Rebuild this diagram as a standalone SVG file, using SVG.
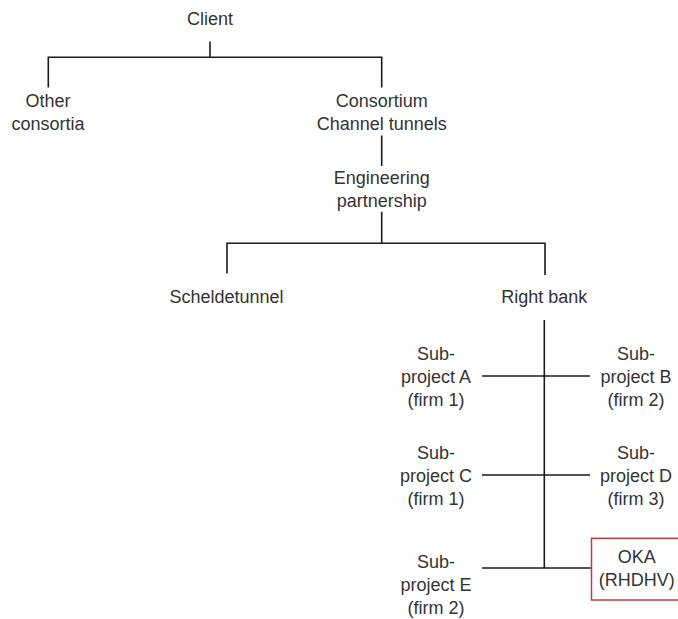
<svg xmlns="http://www.w3.org/2000/svg" width="678" height="619" viewBox="0 0 678 619">
  <style>
    .lbl { font-family: "Liberation Sans", Arial, sans-serif; font-size: 18px; fill: #333333; text-anchor: middle; }
    .edge { stroke: #1a1a1a; stroke-width: 1.6; fill: none; }
    .hl { fill: #ffffff; stroke: #c83a3a; stroke-width: 1.5; }
  </style>
  <rect width="678" height="619" fill="#ffffff"/>

  <!-- connectors -->
  <g id="connectors" class="edge">
    <path d="M210 41.5 V57.3 M48.3 87.5 V57.3 H381.7 V87.5"/>
    <path d="M381.7 135.5 V166"/>
    <path d="M381.7 211.7 V243.3 M227 273.5 V243.3 H545 V275"/>
    <path d="M544.3 320 V568"/>
    <path d="M482 376 H590"/>
    <path d="M482 475 H590"/>
    <path d="M482 568 H591.5"/>
  </g>

  <!-- nodes -->
  <g id="client">
    <text class="lbl" x="210" y="25">Client</text>
  </g>
  <g id="other-consortia">
    <text class="lbl" x="48" y="107">Other</text>
    <text class="lbl" x="48" y="129.5">consortia</text>
  </g>
  <g id="consortium">
    <text class="lbl" x="381.7" y="107">Consortium</text>
    <text class="lbl" x="381.7" y="129.5">Channel tunnels</text>
  </g>
  <g id="engineering">
    <text class="lbl" x="381.7" y="184.3">Engineering</text>
    <text class="lbl" x="381.7" y="206.7">partnership</text>
  </g>
  <g id="scheldetunnel">
    <text class="lbl" x="226.5" y="303.3">Scheldetunnel</text>
  </g>
  <g id="right-bank">
    <text class="lbl" x="544.3" y="303.3">Right bank</text>
  </g>
  <g id="sub-a">
    <text class="lbl" x="436" y="360">Sub-</text>
    <text class="lbl" x="436" y="383">project A</text>
    <text class="lbl" x="436" y="406">(firm 1)</text>
  </g>
  <g id="sub-b">
    <text class="lbl" x="636" y="360">Sub-</text>
    <text class="lbl" x="636" y="383">project B</text>
    <text class="lbl" x="636" y="406">(firm 2)</text>
  </g>
  <g id="sub-c">
    <text class="lbl" x="436" y="459">Sub-</text>
    <text class="lbl" x="436" y="482">project C</text>
    <text class="lbl" x="436" y="505">(firm 1)</text>
  </g>
  <g id="sub-d">
    <text class="lbl" x="636" y="459">Sub-</text>
    <text class="lbl" x="636" y="482">project D</text>
    <text class="lbl" x="636" y="505">(firm 3)</text>
  </g>
  <g id="sub-e">
    <text class="lbl" x="436" y="568">Sub-</text>
    <text class="lbl" x="436" y="591">project E</text>
    <text class="lbl" x="436" y="614">(firm 2)</text>
  </g>
  <g id="oka">
    <rect class="hl" x="591.5" y="538.3" width="91" height="61.7"/>
    <text class="lbl" x="636.7" y="563.3">OKA</text>
    <text class="lbl" x="636.7" y="586">(RHDHV)</text>
  </g>
</svg>
